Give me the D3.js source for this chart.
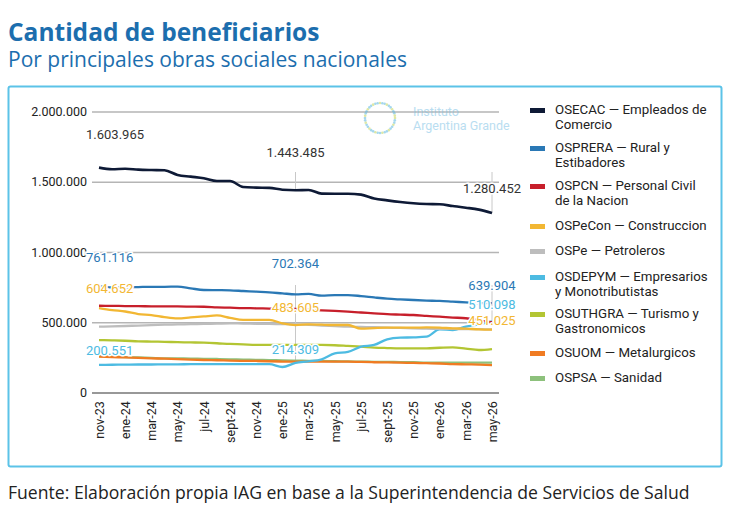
<!DOCTYPE html>
<html><head><meta charset="utf-8">
<script src="https://cdn.jsdelivr.net/npm/d3@7"></script>
<style>body{margin:0;background:#fff;font-family:Roboto,"Open Sans",sans-serif}</style>
</head><body><svg id="c" width="730" height="513"></svg>
<script>
const months = ["nov-23","dic-23","ene-24","feb-24","mar-24","abr-24","may-24","jun-24","jul-24","ago-24","sept-24","oct-24","nov-24","dic-24","ene-25","feb-25","mar-25","abr-25","may-25","jun-25","jul-25","ago-25","sept-25","oct-25","nov-25","dic-25","ene-26","feb-26","mar-26","abr-26","may-26"];
const tickMonths = ["nov-23","ene-24","mar-24","may-24","jul-24","sept-24","nov-24","ene-25","mar-25","may-25","jul-25","sept-25","nov-25","ene-26","mar-26","may-26"];
const yTicks = [0,500000,1000000,1500000,2000000];
const names = ["OSECAC — Empleados de Comercio","OSPRERA — Rural y Estibadores","OSPCN — Personal Civil de la Nacion","OSPeCon — Construccion","OSPe — Petroleros","OSDEPYM — Empresarios y Monotributistas","OSUTHGRA — Turismo y Gastronomicos","OSUOM — Metalurgicos","OSPSA — Sanidad"];
const colors = ["#0e1a36","#2a78b5","#c71f2b","#f2b733","#bdbdbd","#4dbbe2","#b3c533","#f07b22","#8dc17c"];
const osecac = [1603965,1592000,1596000,1590000,1587000,1585000,1552000,1540000,1528000,1509000,1509000,1466000,1462000,1460000,1447000,1443485,1445000,1419000,1418000,1418000,1412000,1385000,1371000,1359000,1350000,1345000,1343000,1331000,1319000,1305000,1280452];
const osprera = [761116,752000,752000,754000,756000,756000,757000,745000,733000,732000,731000,726000,721000,716000,709000,702364,705000,693000,697000,697000,690000,680000,671000,666000,662000,658000,655000,650000,645000,640000,639904];
const ospcn = [621000,620000,619000,618000,617000,616000,616000,615000,614000,610000,607000,604000,603000,601000,600000,598000,593000,588000,584000,579000,573000,567000,561000,558000,555000,549000,543000,537000,532000,518000,503000];
const ospecon = [604652,590000,580000,562000,555000,540000,531000,538000,545000,552000,535000,520000,520000,520000,496000,483605,489000,486000,484000,484000,458000,462000,465000,465000,465000,467000,465000,460000,458000,453000,451025];
const ospe = [472000,474000,477000,480000,483000,486000,488000,490000,492000,494000,496000,494000,493000,492000,490000,489000,485000,480000,476000,472000,470000,468000,465000,463000,460000,458000,457000,456000,455000,454000,453000];
const osdepym = [200551,201000,202000,203000,203000,204000,204000,205000,205000,205000,206000,206000,205000,205000,185000,214309,225000,240000,282000,292000,330000,342000,382000,394000,396000,401000,453000,448000,472000,489000,510098];
const osuthgra = [377000,375000,372000,368000,366000,364000,362000,360000,358000,354000,349000,346000,342000,342000,342000,342000,342000,342000,340000,335000,330000,323000,320000,318000,318000,318000,322000,325000,316000,306000,313000];
const osuom = [259000,256000,253000,250000,247000,244000,241000,238000,235000,233000,231000,229000,228000,226000,224000,223000,223000,223000,223000,223000,221000,219000,218000,216000,214000,212000,210000,206000,204000,202000,199000];
const ospsa = [263000,260000,256000,253000,250000,247000,246000,245000,243000,242000,240000,238000,236000,234000,232000,230000,229000,228000,226000,225000,223000,222000,221000,220000,219000,216000,216000,216000,216000,216000,216000];
const series = [osecac,osprera,ospcn,ospecon,ospe,osdepym,osuthgra,osuom,ospsa];
const labelSeries = [0,1,3,5];
const labelIdx = [0,15,30];

const svg = d3.select("#c");
svg.append("text").attr("x",8).attr("y",41).attr("font-size",24.5).attr("font-weight",700).attr("font-family","'Open Sans',sans-serif").attr("fill","#1c6eae").text("Cantidad de beneficiarios");
svg.append("text").attr("x",8).attr("y",67).attr("font-size",21).attr("font-family","'Open Sans',sans-serif").attr("fill","#1c6eae").text("Por principales obras sociales nacionales");
svg.append("rect").attr("x",8.5).attr("y",86.5).attr("width",713).attr("height",380).attr("fill","#fff").attr("stroke","#5cc3e8").attr("stroke-width",2).attr("rx",2);
svg.append("text").attr("x",8).attr("y",499).attr("font-size",17.6).attr("font-family","'Open Sans',sans-serif").attr("fill","#222").text("Fuente: Elaboración propia IAG en base a la Superintendencia de Servicios de Salud");

const x = d3.scalePoint().domain(months).range([99,492]);
const y = d3.scaleLinear().domain([0,2000000]).range([393,112]);
const fmt = v => d3.format(",")(v).replace(/,/g,".");

const gy = svg.append("g");
yTicks.forEach(t=>{
  gy.append("line").attr("x1",92).attr("x2",499).attr("y1",y(t)).attr("y2",y(t)).attr("stroke",t===0?"#333":"#b5b5b5").attr("stroke-width",t===0?1.2:1.5);
  gy.append("text").attr("x",87).attr("y",y(t)+4).attr("text-anchor","end").attr("font-size",12.5).attr("fill","#222").text(fmt(t));
});
const xAxis = svg.append("g").attr("transform","translate(0,393)").call(d3.axisBottom(x).tickValues(tickMonths).tickSize(0).tickPadding(6));
xAxis.select(".domain").remove();
xAxis.selectAll("text").attr("font-size",12.5).attr("fill","#222").attr("font-family","Roboto,sans-serif")
  .attr("transform","rotate(-90)").attr("text-anchor","end").attr("dx","-0.5em").attr("dy","0.35em").attr("x",-2).attr("y",0);

// watermark
const wm = svg.append("g").attr("opacity",0.55);
for(let k=0;k<40;k++){const a=k/40*2*Math.PI; wm.append("circle").attr("cx",380+15*Math.cos(a)).attr("cy",118+15*Math.sin(a)).attr("r",1.3).attr("fill",k%3?"#5cb8e0":"#c5d65a");}
wm.append("text").attr("x",413).attr("y",116).attr("font-size",12.5).attr("fill","#7fc3e6").text("Instituto");
wm.append("text").attr("x",413).attr("y",130).attr("font-size",12.5).attr("fill","#7fc3e6").text("Argentina Grande");

// leader lines
labelIdx.slice(1).forEach(i=>{
  svg.append("line").attr("x1",x(months[i])).attr("x2",x(months[i])).attr("y1",172).attr("y2",y(osecac[i])).attr("stroke","#c8c8c8");
  svg.append("line").attr("x1",x(months[i])).attr("x2",x(months[i])).attr("y1",285).attr("y2",y(osdepym[i])).attr("stroke","#c8c8c8");
});

const line = d3.line().x((d,i)=>x(months[i])).y(d=>y(d)).curve(d3.curveMonotoneX);
for(let s=series.length-1;s>=0;s--){
  svg.append("path").attr("d",line(series[s])).attr("fill","none").attr("stroke",colors[s]).attr("stroke-width",s===0?2.6:2.3);
}
// labels
const offs = {0:[-29,-33,-20],1:[-24,-26,-13],3:[-15,-13,-5],5:[-10,-9,-12]};
labelSeries.forEach(s=>{
  labelIdx.forEach((i,k)=>{
    const v = series[s][i];
    const yy = y(v)+offs[s][k];
    let xx = x(months[i]); const anchor = k===0?"start":"middle";
    if(k===0) xx = 86;
    if(k===2) xx = 492;
    svg.append("text").attr("x",xx).attr("y",yy).attr("text-anchor",anchor).attr("font-size",13)
      .attr("fill",s===0?"#333":colors[s]).attr("stroke","#fff").attr("stroke-width",3).attr("paint-order","stroke").text(fmt(v));
  });
});

// legend
const legY = [112,150,188,228,253,279,316,355,380];
const legParts = [["OSECAC — Empleados de","Comercio"],["OSPRERA — Rural y","Estibadores"],["OSPCN — Personal Civil","de la Nacion"],["OSPeCon — Construccion"],["OSPe — Petroleros"],["OSDEPYM — Empresarios","y Monotributistas"],["OSUTHGRA — Turismo y","Gastronomicos"],["OSUOM — Metalurgicos"],["OSPSA — Sanidad"]];
names.forEach((n,i)=>{
  svg.append("rect").attr("x",530).attr("y",legY[i]-4).attr("width",15).attr("height",5).attr("fill",colors[i]);
  legParts[i].forEach((p,j)=>svg.append("text").attr("x",555).attr("y",legY[i]+2+j*15).attr("font-size",13.3).attr("fill","#222").text(p));
});
</script></body></html>
